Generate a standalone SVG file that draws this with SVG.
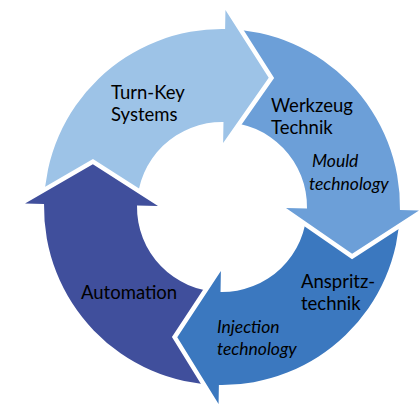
<svg xmlns="http://www.w3.org/2000/svg" width="420" height="406" viewBox="0 0 420 406">
<style>
.lbl{font-family:Lato,"Liberation Sans",sans-serif;font-size:18.5px;fill:#000}
.it{font-family:Lato,"Liberation Sans",sans-serif;font-style:italic;font-size:17.5px;fill:#000}
.cut{fill:#000;stroke:#000;stroke-width:9;stroke-linejoin:miter}
</style>
<defs>
<mask id="m-lb" maskUnits="userSpaceOnUse" x="0" y="0" width="420" height="406">
<rect x="0" y="0" width="420" height="406" fill="#fff"/>
<polygon class="cut" points="25.03,203.56 92.86,164.27 158.01,205.88"/>
</mask>
<mask id="m-wz" maskUnits="userSpaceOnUse" x="0" y="0" width="420" height="406">
<rect x="0" y="0" width="420" height="406" fill="#fff"/>
<polygon class="cut" points="225.44,10.03 268.73,77.86 223.12,143.01"/>
</mask>
<mask id="m-an" maskUnits="userSpaceOnUse" x="0" y="0" width="420" height="406">
<rect x="0" y="0" width="420" height="406" fill="#fff"/>
<polygon class="cut" points="418.97,210.44 352.14,253.73 285.99,208.12"/>
</mask>
<mask id="m-au" maskUnits="userSpaceOnUse" x="0" y="0" width="420" height="406">
<rect x="0" y="0" width="420" height="406" fill="#fff"/>
<polygon class="cut" points="218.56,403.97 177.27,337.14 220.88,270.99"/>
</mask>
</defs>
<rect x="0" y="0" width="420" height="406" fill="#fff"/>
<g id="turnkey">
<path fill="#9DC3E7" mask="url(#m-lb)" d="M 44.03,203.89 A 178 178 0 0 1 225.11,29.03 L 225.44,10.03 L 268.73,77.86 L 223.12,143.01 L 223.48,122.01 A 85 85 0 0 0 137.01,205.52 Z"/>
<text class="lbl" x="111" y="99">Turn-Key</text>
<text class="lbl" x="111" y="121">Systems</text>
</g>
<g id="werkzeug">
<path fill="#6C9FD8" mask="url(#m-wz)" d="M 225.11,29.03 A 178 178 0 0 1 399.97,210.11 L 418.97,210.44 L 352.14,253.73 L 285.99,208.12 L 306.99,208.48 A 85 85 0 0 0 223.48,122.01 Z"/>
<text class="lbl" x="271" y="112">Werkzeug</text>
<text class="lbl" x="271" y="134">Technik</text>
<text class="it" x="312" y="167">Mould</text>
<text class="it" x="309" y="190">technology</text>
</g>
<g id="anspritz">
<path fill="#3B78BF" mask="url(#m-an)" d="M 399.97,210.11 A 178 178 0 0 1 218.89,384.97 L 218.56,403.97 L 177.27,337.14 L 220.88,270.99 L 220.52,291.99 A 85 85 0 0 0 306.99,208.48 Z"/>
<text class="lbl" x="301" y="288">Anspritz-</text>
<text class="lbl" x="301" y="310">technik</text>
<text class="it" x="217" y="333">Injection</text>
<text class="it" x="217" y="355">technology</text>
</g>
<g id="automation">
<path fill="#404F9C" mask="url(#m-au)" d="M 218.89,384.97 A 178 178 0 0 1 44.03,203.89 L 25.03,203.56 L 92.86,164.27 L 158.01,205.88 L 137.01,205.52 A 85 85 0 0 0 220.52,291.99 Z"/>
<text class="lbl" x="81" y="299">Automation</text>
</g>
</svg>
